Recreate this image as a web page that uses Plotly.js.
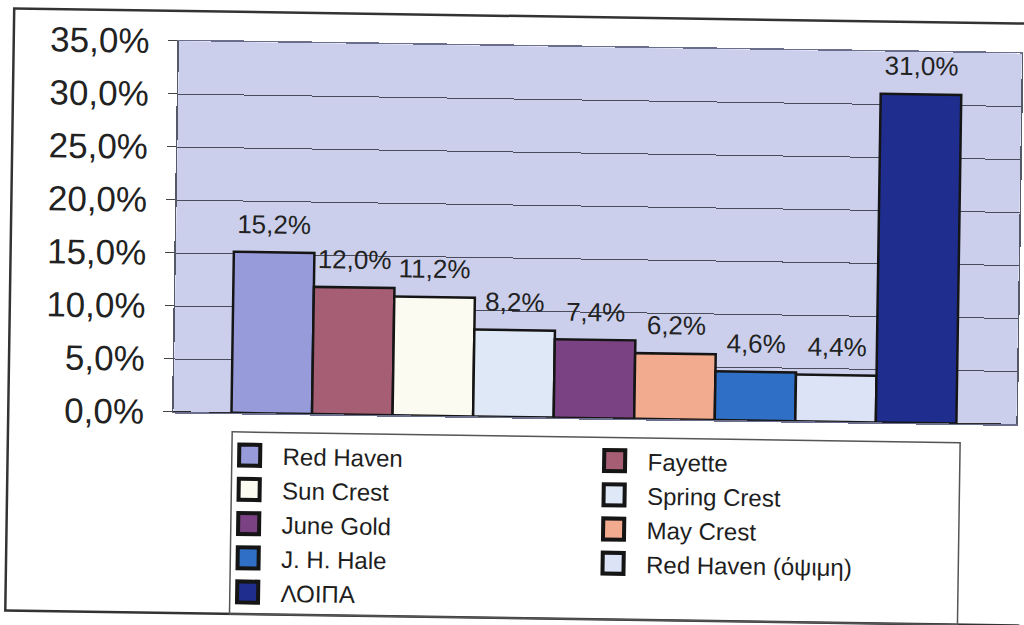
<!DOCTYPE html>
<html>
<head>
<meta charset="utf-8">
<script src="https://cdn.plot.ly/plotly-3.0.1.min.js"></script>
<style>
  html, body { margin: 0; padding: 0; background: #ffffff; overflow: hidden; }
  #chart { width: 1024px; height: 625px; transform: rotate(0.85deg); transform-origin: 512px 312px; }
</style>
</head>
<body>
<div id="chart"></div>
<script>
// ---- data ----
const varieties = ["Red Haven", "Fayette", "Sun Crest", "Spring Crest", "June Gold", "May Crest", "J. H. Hale", "Red Haven (όψιμη)", "ΛΟΙΠΑ"];
const shares = [15.2, 12.0, 11.2, 8.2, 7.4, 6.2, 4.6, 4.4, 31.0];
const barColors = ["#979bda", "#a65e74", "#fbfbf2", "#dfe8f6", "#7a4282", "#f3ab90", "#2f6fc6", "#dde3f6", "#1f2e8e"];
const yTicks = [0, 5, 10, 15, 20, 25, 30, 35];

const fmt = v => v.toFixed(1).replace(".", ",") + "%";

const traces = varieties.map((name, i) => ({
  type: "bar",
  name: name,
  x: [name],
  y: [shares[i]],
  marker: { color: barColors[i], line: { color: "#151515", width: 2.5 } },
  hoverinfo: "skip"
}));

const labels = varieties.map((name, i) => ({
  x: name,
  y: shares[i],
  xref: "x",
  yref: "y",
  text: fmt(shares[i]),
  showarrow: false,
  yanchor: "bottom",
  yshift: 11,
  font: { family: "Liberation Sans, Arial, sans-serif", size: 26, color: "#222222" }
}));

const layout = {
  width: 1024,
  height: 625,
  margin: { l: 175, r: 6, t: 46, b: 208, autoexpand: false },
  paper_bgcolor: "#ffffff",
  plot_bgcolor: "#cbcfec",
  barmode: "overlay",
  bargap: 0,
  font: { family: "Liberation Sans, Arial, sans-serif", color: "#222222" },
  xaxis: {
    type: "category",
    categoryorder: "array",
    categoryarray: varieties,
    range: [-1.22, 9.245],
    showticklabels: false,
    ticks: "",
    showgrid: false,
    zeroline: false,
    showline: true,
    linecolor: "#6a6e8a",
    linewidth: 1.5,
    mirror: true
  },
  yaxis: {
    range: [0, 35],
    tickvals: yTicks,
    ticktext: yTicks.map(fmt),
    ticks: "outside",
    ticklen: 9,
    tickcolor: "#444444",
    ticklabelstandoff: 12,
    tickfont: { size: 35, color: "#222222" },
    showgrid: true,
    gridcolor: "#4a4c5c",
    gridwidth: 1,
    zeroline: true,
    zerolinecolor: "#2a2a2a",
    zerolinewidth: 1.5,
    showline: true,
    linecolor: "#555866",
    linewidth: 1.5,
    mirror: true
  },
  annotations: labels,
  showlegend: true,
  legend: {
    orientation: "h",
    x: 0.052,
    xanchor: "left",
    y: -0.054,
    yanchor: "top",
    itemwidth: 56,
    entrywidth: 294,
    bgcolor: "rgba(0,0,0,0)",
    borderwidth: 0,
    font: { size: 24, color: "#1e1e1e" },
    traceorder: "normal"
  },
  shapes: [
    { type: "rect", xref: "paper", yref: "paper", x0: -0.196, x1: 1.02, y0: -0.542, y1: 1.081,
      line: { color: "#333333", width: 2.5 }, fillcolor: "rgba(0,0,0,0)", layer: "below" },
    { type: "rect", xref: "paper", yref: "paper", x0: 0.070, x1: 0.9336, y0: -0.542, y1: -0.0512,
      line: { color: "#555555", width: 1.5 }, fillcolor: "rgba(0,0,0,0)", layer: "below" }
  ]
};

Plotly.newPlot("chart", traces, layout, { displayModeBar: false, staticPlot: true }).then(() => {
  document.querySelectorAll(".legend .legendpoints path").forEach(p => {
    const t = p.getAttribute("transform") || "";
    p.setAttribute("transform", t + " scale(1.75)");
    p.style.strokeWidth = "2.3px";
  });
});
</script>
</body>
</html>
